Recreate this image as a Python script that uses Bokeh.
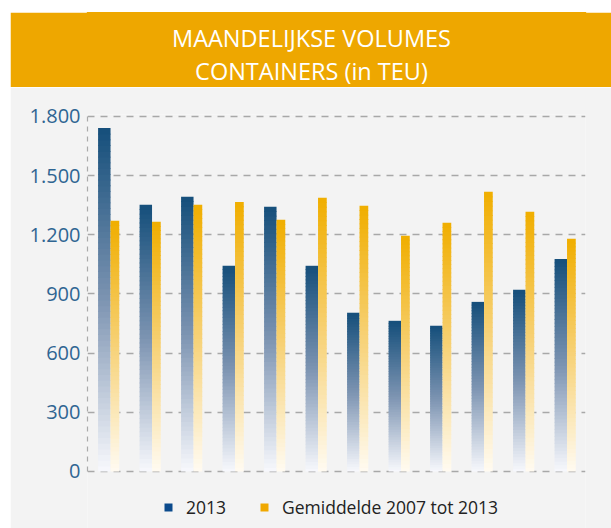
from bokeh.plotting import figure
from bokeh.models import (ColumnDataSource, FactorRange, Range1d, FixedTicker, Legend, LegendItem,
                          Label, Spacer)
from bokeh.layouts import column, row
from bokeh.transform import dodge
from bokeh.embed import file_html
from bokeh.resources import INLINE

# ---- data ----
months = ["jan", "feb", "mrt", "apr", "mei", "jun", "jul", "aug", "sep", "okt", "nov", "dec"]
vol_2013 = [1741, 1352, 1393, 1043, 1342, 1043, 805, 764, 739, 860, 921, 1078]
gem_2007_2013 = [1271, 1266, 1352, 1367, 1276, 1388, 1347, 1195, 1261, 1418, 1317, 1180]
y_ticks = [0, 300, 600, 900, 1200, 1500, 1800]
y_tick_labels = ["0", "300", "600", "900", "1.200", "1.500", "1.800"]
series_names = ["2013", "Gemiddelde 2007 tot 2013"]
title_lines = ["MAANDELIJKSE VOLUMES", "CONTAINERS (in TEU)"]

# ---- styling ----
ORANGE_BAND = "#eea700"
PANEL = "#f3f3f3"
BLUE_STOPS = [(0.0, (248, 249, 253)), (0.5, (125, 148, 178)), (1.0, (21, 79, 123))]
ORANGE_STOPS = [(0.0, (255, 251, 242)), (0.5, (247, 210, 120)), (1.0, (240, 174, 0))]
N_SLICES = 60
BORDER_L, BORDER_R = 77, 26
FIG_W = 601


def ramp(stops, f):
    for (f0, c0), (f1, c1) in zip(stops[:-1], stops[1:]):
        if f <= f1:
            t = (f - f0) / (f1 - f0)
            c = [round(a + (b - a) * t) for a, b in zip(c0, c1)]
            return "#%02x%02x%02x" % tuple(c)
    return "#%02x%02x%02x" % stops[-1][1]


def gradient_source(values, stops):
    d = dict(month=[], bottom=[], top=[], color=[])
    for m, v in zip(months, values):
        for k in range(N_SLICES):
            b = v * k / N_SLICES
            t = v * (k + 1) / N_SLICES
            d["month"].append(m)
            d["bottom"].append(b - (4 if k > 0 else 0))
            d["top"].append(t)
            d["color"].append(ramp(stops, (k + 0.5) / N_SLICES))
    return ColumnDataSource(d)


# ---- header band ----
frame_w = FIG_W - BORDER_L - BORDER_R
h = figure(
    width=FIG_W, height=75, x_range=Range1d(0, frame_w), y_range=Range1d(75, 0),
    output_backend="svg", toolbar_location=None,
    x_axis_location=None, y_axis_location=None,
    min_border_left=BORDER_L, min_border_right=BORDER_R, min_border_top=0, min_border_bottom=0,
    background_fill_color=ORANGE_BAND, border_fill_color=ORANGE_BAND,
)
h.outline_line_color = ORANGE_BAND
h.outline_line_width = 1.5
h.grid.visible = False
for txt, yy in zip(title_lines, [25, 58]):
    h.add_layout(Label(x=224, y=yy, text=txt, text_align="center", text_baseline="middle",
                       text_font="Open Sans", text_font_size="23.5px", text_color="white"))

# ---- main chart ----
p = figure(
    width=FIG_W, height=441,
    x_range=FactorRange(*months, range_padding=0),
    y_range=Range1d(-289, 1810),
    output_backend="svg", toolbar_location=None,
    x_axis_location=None,
    min_border_left=BORDER_L, min_border_right=BORDER_R, min_border_top=27, min_border_bottom=0,
    background_fill_color=PANEL, border_fill_color=PANEL,
)
p.outline_line_color = None

BLUE_X = (-0.245, 0.055)
ORANGE_X = (0.055, 0.265)
src_b = gradient_source(vol_2013, BLUE_STOPS)
src_o = gradient_source(gem_2007_2013, ORANGE_STOPS)
p.quad(left=dodge("month", BLUE_X[0], range=p.x_range), right=dodge("month", BLUE_X[1], range=p.x_range),
       bottom="bottom", top="top", fill_color="color", line_color=None, source=src_b)
p.quad(left=dodge("month", ORANGE_X[0], range=p.x_range), right=dodge("month", ORANGE_X[1], range=p.x_range),
       bottom="bottom", top="top", fill_color="color", line_color=None, source=src_o)

# legend swatch renderers (hidden; only their legend glyph is shown)
leg_src = ColumnDataSource(dict(month=months, v13=vol_2013, gem=gem_2007_2013))
lb = p.quad(left=dodge("month", BLUE_X[0], range=p.x_range), right=dodge("month", BLUE_X[1], range=p.x_range),
            bottom=0, top="v13", source=leg_src, fill_color="#0b4a8c", line_color=None, visible=False)
lo = p.quad(left=dodge("month", ORANGE_X[0], range=p.x_range), right=dodge("month", ORANGE_X[1], range=p.x_range),
            bottom=0, top="gem", source=leg_src, fill_color="#f0a800", line_color=None, visible=False)
legend = Legend(
    items=[LegendItem(label=series_names[0], renderers=[lb]),
           LegendItem(label=series_names[1], renderers=[lo])],
    orientation="horizontal", location=(76, 9),
    glyph_width=10, glyph_height=10, label_standoff=13, spacing=33,
    padding=0, margin=0,
    label_text_font="Open Sans", label_text_font_size="17.5px", label_text_color="#222222",
    background_fill_alpha=0, border_line_color=None,
    inactive_fill_alpha=0,
)
p.add_layout(legend, "center")

yaxis = p.yaxis[0]
yaxis.ticker = FixedTicker(ticks=y_ticks)
yaxis.bounds = (0, 1800)
yaxis.major_label_overrides = {t: l for t, l in zip(y_ticks, y_tick_labels)}
yaxis.major_label_text_font = "Open Sans"
yaxis.major_label_text_font_size = "20px"
yaxis.major_label_text_color = "#2f6592"
yaxis.major_label_standoff = 7
yaxis.major_tick_in = 0
yaxis.major_tick_out = 0
yaxis.minor_tick_line_color = None
yaxis.axis_line_color = "#aaaaaa"
yaxis.axis_line_dash = "5 5"
yaxis.axis_line_width = 1.2

p.xgrid.grid_line_color = None
p.ygrid.ticker = FixedTicker(ticks=y_ticks)
p.ygrid.grid_line_color = "#a8a8a8"
p.ygrid.grid_line_dash = "7 6"
p.ygrid.grid_line_width = 1.4

layout = row(Spacer(width=10), column(Spacer(height=12), h, p, spacing=0), spacing=0)
open("out.html", "w").write(file_html(layout, INLINE))
